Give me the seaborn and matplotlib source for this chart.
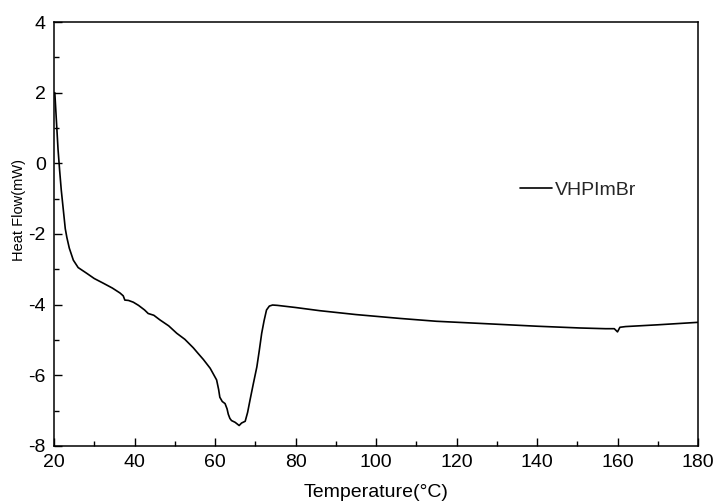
import pandas as pd
import numpy as np
import matplotlib
matplotlib.use("Agg")
import matplotlib.pyplot as plt
import seaborn as sns
from matplotlib.ticker import MultipleLocator

sns.set_theme(style="ticks")
plt.rcParams['font.family'] = ['Liberation Sans', 'DejaVu Sans']
plt.rcParams['axes.unicode_minus'] = False

# DSC curve
temperatura = [20.2, 20.6, 21.0, 21.4, 21.8, 22.3, 22.8, 23.2, 23.8, 24.8, 26.0, 28.1,
               30.0, 32.2, 34.5, 36.4, 37.2, 37.6, 38.5, 39.7, 41.0, 42.5, 43.4, 44.8,
               46.3, 48.5, 50.5, 52.5, 54.6, 55.8, 57.1, 58.8, 60.4, 60.9, 61.2, 61.8,
               62.5, 63.0, 63.3, 63.7, 64.1, 65.0, 66.0, 66.6, 67.5, 68.1, 68.7, 69.5,
               70.4, 71.0, 71.6, 72.2, 72.8, 73.5, 74.3, 75.5, 80, 86, 95, 106, 115,
               125.8, 140, 150.7, 157, 159.2, 160.0, 160.6, 162, 170, 180]
fluxo = [2.0, 1.2, 0.4, -0.2, -0.75, -1.3, -1.85, -2.1, -2.4, -2.74, -2.95, -3.11,
         -3.26, -3.39, -3.53, -3.67, -3.75, -3.87, -3.88, -3.93, -4.02, -4.15, -4.25, -4.3,
         -4.43, -4.6, -4.81, -4.98, -5.22, -5.38, -5.55, -5.8, -6.13, -6.4, -6.62, -6.74,
         -6.8, -6.95, -7.1, -7.22, -7.28, -7.33, -7.42, -7.35, -7.3, -7.05, -6.7, -6.25,
         -5.76, -5.3, -4.81, -4.45, -4.15, -4.04, -4.01, -4.02, -4.08, -4.17, -4.28, -4.39, -4.47,
         -4.53, -4.61, -4.66, -4.68, -4.68, -4.77, -4.64, -4.62, -4.57, -4.5]
amostra = "VHPImBr"

df = pd.DataFrame({'T': temperatura, 'HF': fluxo, 'Amostra': amostra})

fig = plt.figure(figsize=(7.19, 5.04), dpi=100)
ax = fig.add_axes([54/719, 1-446/504, 644/719, 424/504])

sns.lineplot(data=df, x='T', y='HF', hue='Amostra', palette=['black'],
             linewidth=1.2, sort=False, ax=ax)

ax.set_xlim(20, 180)
ax.set_ylim(-8, 4)
ax.xaxis.set_major_locator(MultipleLocator(20))
ax.xaxis.set_minor_locator(MultipleLocator(10))
ax.yaxis.set_major_locator(MultipleLocator(2))
ax.yaxis.set_minor_locator(MultipleLocator(1))
ax.tick_params(which='both', direction='in', colors='black', labelsize=14,
               top=False, right=False, width=1.0)
ax.tick_params(which='major', length=6, pad=6)
ax.tick_params(which='minor', length=3.5)
for s in ax.spines.values():
    s.set_color('black')
    s.set_linewidth(1.1)

ax.set_xlabel("Temperature(°C)", fontsize=14, color='black', labelpad=9)
ax.set_ylabel("Heat Flow(mW)", fontsize=10.5, color='black')
ax.yaxis.set_label_coords(-0.0435, 0.557)

ax.legend(frameon=False, loc='center left', bbox_to_anchor=(0.7236, 0.604),
          borderpad=0, borderaxespad=0, handlelength=1.65, handletextpad=0.15,
          fontsize=14)

plt.savefig("out.png", dpi=100)
